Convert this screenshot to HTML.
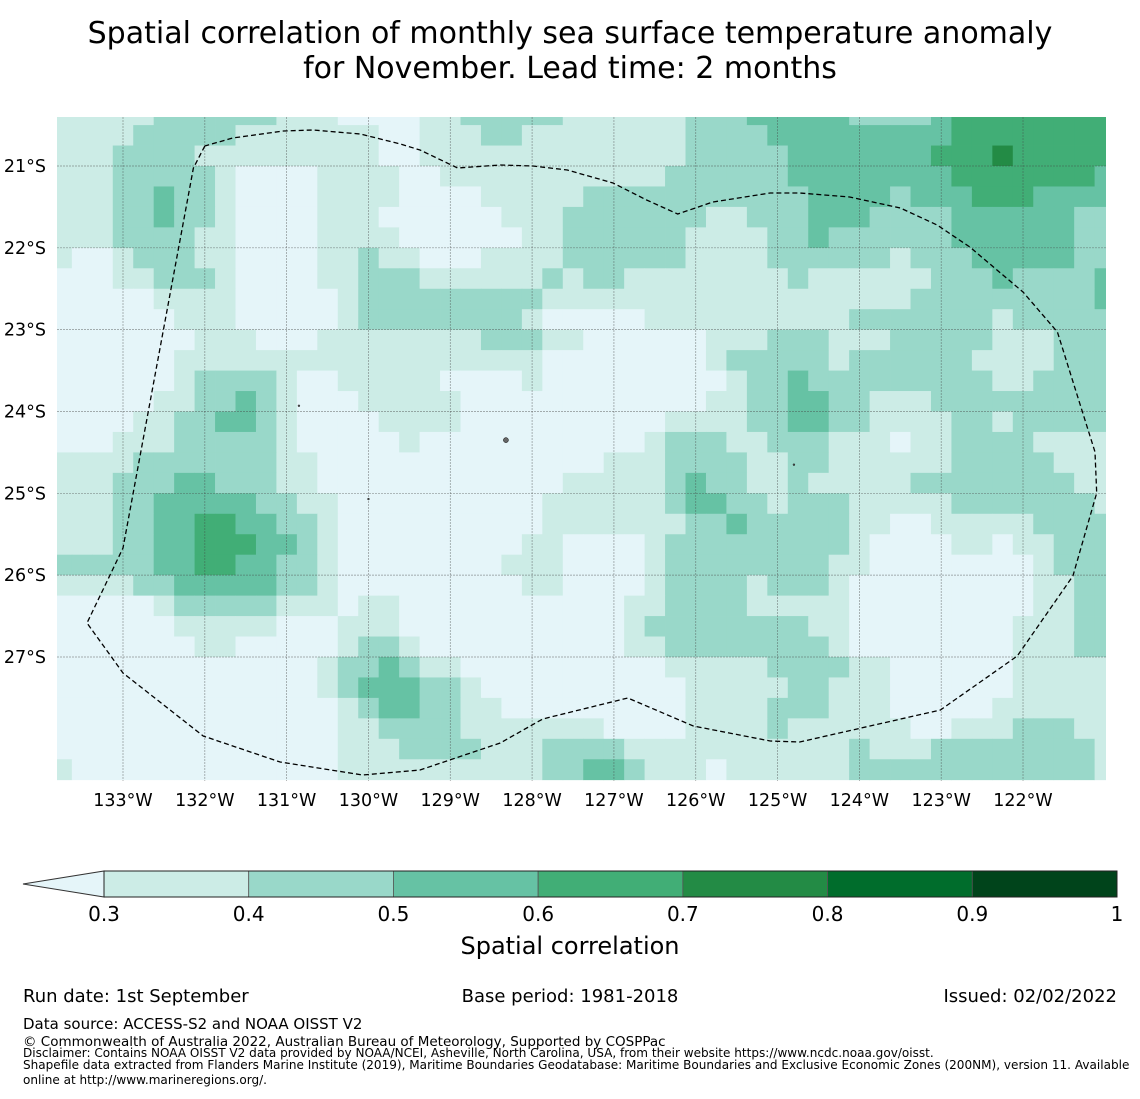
<!DOCTYPE html>
<html><head><meta charset="utf-8">
<style>
html,body{margin:0;padding:0;background:#fff;}
body{width:1140px;height:1095px;overflow:hidden;font-family:"DejaVu Sans","Liberation Sans",sans-serif;}
svg text{font-family:"DejaVu Sans","Liberation Sans",sans-serif;}
</style></head>
<body>
<svg id="chart" width="1140" height="1095" viewBox="0 0 1140 1095" xmlns="http://www.w3.org/2000/svg">
<text x="570" y="43" font-size="30" text-anchor="middle">Spatial correlation of monthly sea surface temperature anomaly</text>
<text x="570" y="78" font-size="30" text-anchor="middle">for November. Lead time: 2 months</text>
<defs><clipPath id="mapclip"><rect x="57" y="117" width="1049" height="664"/></clipPath></defs>
<g id="cells" clip-path="url(#mapclip)"></g>
<g id="grid" clip-path="url(#mapclip)"></g>
<g id="islands"></g>
<polyline id="eez" fill="none" stroke="#000" stroke-width="1.3" stroke-dasharray="5,3"/>
<g id="xticks"></g>
<g id="yticks"></g>
<g id="colorbar"></g>
<text x="570" y="954" font-size="24" text-anchor="middle">Spatial correlation</text>
<text x="23" y="1002" font-size="18">Run date: 1st September</text>
<text x="570" y="1002" font-size="18" text-anchor="middle">Base period: 1981-2018</text>
<text x="1117" y="1002" font-size="18" text-anchor="end">Issued: 02/02/2022</text>
<text x="23" y="1029" font-size="15">Data source: ACCESS-S2 and NOAA OISST V2</text>
<text x="23" y="1046" font-size="13.5">© Commonwealth of Australia 2022, Australian Bureau of Meteorology, Supported by COSPPac</text>
<text x="23" y="1057" font-size="12.05">Disclaimer: Contains NOAA OISST V2 data provided by NOAA/NCEI, Asheville, North Carolina, USA, from their website https://www.ncdc.noaa.gov/oisst.</text>
<text x="23" y="1069" font-size="12.05">Shapefile data extracted from Flanders Marine Institute (2019), Maritime Boundaries Geodatabase: Maritime Boundaries and Exclusive Economic Zones (200NM), version 11. Available</text>
<text x="23" y="1084" font-size="12.05">online at http://www.marineregions.org/.</text>
</svg>
<script>
// Correlation class per cell (0:<0.3, 1:0.3-0.4, 2:0.4-0.5, 3:0.5-0.6, 4:0.6-0.7, 5:0.7-0.8), rows north->south, cols west->east
const corrRows = [
"1111122222211100001122222111111222333332222344444444",
"1111222221111111001112211111111222233333333344444444",
"1112222111111111001111111111111222223333333444544444",
"1112222210000111100111111111112222223333333344444443",
"1112232210000111100001111122222222222333323334443333",
"1112232210000111000000111222222211222333222233333322",
"1112222110000111100000011222222111122322222233333322",
"1001222110000112110001111222222111122222212223333322",
"0001122210000112221111112122111111112111111222322223",
"0000011110000012222222221111111111111111112222222223",
"0000001110000012222222210000011111111112222222122222",
"0000000111000111111112221100000011122211122222111222",
"0000001111111111111111110000000012222212222221111222",
"0000001222210011111000010000000001223222222222112222",
"0000011223210001111100000000000011223322111222222222",
"0000112233210000111100000000001111223322111122122222",
"0001112222210000010000000000012221122211101122221111",
"1111222222211000000000000001112222112211111122222111",
"1112223322211000000000000111112322112111112222222211",
"1112233333221100000000001111112332212221111122222221",
"1112233443322100000000001111111223222221100111112222",
"1112233444332100000000011000012222222221000011011222",
"2222233443322100000000111000012222222211000000001222",
"1111223333322100000000011000012222122210000000001122",
"0000012222211101100000000000112222111110000000001122",
"0000001111100011100000000000122222222110000000011122",
"0000000110000012210000000000112222222210000000011122",
"0000000000000122321100000000001111122221100000011111",
"0000000000000123332210000000000111112211100000011111",
"0000000000000012332211000000000111122211100000111111",
"0000000000000011222211111110000111121111110011122211",
"0000000000000011122221112222111111111112111222222221",
"1000000000000011111111112233211101111112222222222221"
];
const lonTicks = [-133,-132,-131,-130,-129,-128,-127,-126,-125,-124,-123,-122];
const lonTickLabels = ["133°W","132°W","131°W","130°W","129°W","128°W","127°W","126°W","125°W","124°W","123°W","122°W"];
const latTicks = [-21,-22,-23,-24,-25,-26,-27];
const latTickLabels = ["21°S","22°S","23°S","24°S","25°S","26°S","27°S"];
const cbarBounds = [0.3,0.4,0.5,0.6,0.7,0.8,0.9,1.0];
const cbarLabels = ["0.3","0.4","0.5","0.6","0.7","0.8","0.9","1"];
// EEZ boundary vertices (lon, lat)
const eezLon = [-132.00,-132.14,-133.00,-133.44,-133.00,-132.02,-131.08,-130.07,-129.37,-128.39,-127.87,-126.83,-126.03,-125.09,-124.73,-123.01,-122.07,-121.39,-121.10,-121.12,-121.58,-122.00,-122.65,-123.05,-123.50,-124.12,-124.73,-125.09,-125.79,-126.22,-126.60,-127.01,-127.57,-127.99,-128.39,-128.91,-129.37,-129.61,-130.10,-130.68,-131.04,-131.66,-132.00];
const eezLat = [-20.756,-21.024,-25.668,-26.585,-27.196,-27.966,-28.283,-28.442,-28.381,-28.051,-27.758,-27.501,-27.843,-28.027,-28.039,-27.648,-26.988,-26.010,-24.996,-24.495,-23.029,-22.540,-21.990,-21.721,-21.513,-21.379,-21.330,-21.330,-21.440,-21.587,-21.415,-21.208,-21.049,-21.000,-20.988,-21.024,-20.804,-20.731,-20.609,-20.560,-20.572,-20.658,-20.756];
const islandLon = [-128.32,-130.85,-124.8,-130.0];
const islandLat = [-24.35,-23.93,-24.65,-25.07];

const NS='http://www.w3.org/2000/svg';
const colors = ['#e5f5f9','#ccece6','#99d8c9','#66c2a4','#41ae76','#238b45','#006d2c','#00441b'];
function xOf(lon){return 123 + (lon + 133) * 81.82;}
function yOf(lat){return 166 + (-21 - lat) * 81.83;}
function classColor(v){ if(v<0.3) return colors[0]; for(let i=0;i<cbarBounds.length-1;i++){ if(v<cbarBounds[i+1]) return colors[i+1]; } return colors[7]; }
function mk(tag, attrs, parent){const e=document.createElementNS(NS,tag); for(const k in attrs) e.setAttribute(k,attrs[k]); parent.appendChild(e); return e;}

const cellG=document.getElementById('cells');
corrRows.forEach((row,r)=>{
  const latTop = -20.25 - 0.25*r;
  for(let c=0;c<row.length;c++){
    const d=+row[c];
    const v = d===0 ? 0.25 : 0.25 + 0.1*d;
    const lonC = -133.75 + 0.25*c;
    const x0=xOf(lonC-0.125), x1=xOf(lonC+0.125), y0=yOf(latTop), y1=yOf(latTop-0.25);
    const el=mk('rect',{x:x0.toFixed(2),y:y0.toFixed(2),width:(x1-x0+0.4).toFixed(2),height:(y1-y0+0.4).toFixed(2),fill:classColor(v)},cellG);
    
    
  }
});
const gridG=document.getElementById('grid');
lonTicks.forEach(l=>{const x=xOf(l); const e=mk('line',{x1:x,x2:x,y1:117,y2:781,stroke:'#444','stroke-opacity':0.55,'stroke-width':0.7,'stroke-dasharray':'2,1'},gridG);
  
  });
latTicks.forEach(l=>{const y=yOf(l); const e=mk('line',{x1:57,x2:1106,y1:y,y2:y,stroke:'#444','stroke-opacity':0.55,'stroke-width':0.7,'stroke-dasharray':'2,1'},gridG);
  
  });
const xt=document.getElementById('xticks');
lonTicks.forEach((l,i)=>{const t=mk('text',{x:xOf(l),y:806,'font-size':17.5,'text-anchor':'middle'},xt); t.textContent=lonTickLabels[i];
  
  });
const yt=document.getElementById('yticks');
latTicks.forEach((l,i)=>{const t=mk('text',{x:46,y:yOf(l)+6,'font-size':17.5,'text-anchor':'end'},yt); t.textContent=latTickLabels[i];
  
  });
const isl=document.getElementById('islands');
islandLon.forEach((l,i)=>{const e=mk('circle',{cx:xOf(l),cy:yOf(islandLat[i]),r:i===0?2.5:0.9,fill:'#666',stroke:'#000','stroke-width':0.5},isl);
  
  });
document.getElementById('eez').setAttribute('points', eezLon.map((l,i)=>xOf(l).toFixed(1)+','+yOf(eezLat[i]).toFixed(1)).join(' '));
// colorbar
const cb=document.getElementById('colorbar');
const cbX0=104, cbX1=1117, cbY=871, cbH=26;
function cbx(v){return cbX0 + (v-0.3)/(0.7)*(cbX1-cbX0);}
const tri=mk('polygon',{points:`23,${cbY+cbH/2} ${cbX0},${cbY} ${cbX0},${cbY+cbH}`,fill:colors[0],stroke:'#333','stroke-width':1},cb);


for(let i=0;i<cbarBounds.length-1;i++){
  const a=cbx(cbarBounds[i]), b=cbx(cbarBounds[i+1]);
  const r=mk('rect',{x:a,y:cbY,width:b-a,height:cbH,fill:colors[i+1],stroke:'#555','stroke-width':0.8},cb);
  
  
}
mk('rect',{x:cbX0,y:cbY,width:cbX1-cbX0,height:cbH,fill:'none',stroke:'#222','stroke-width':1},cb);
cbarBounds.forEach((v,i)=>{const t=mk('text',{x:cbx(v),y:921,'font-size':20,'text-anchor':'middle'},cb); t.textContent=cbarLabels[i];
  
  });
</script>
</body></html>
